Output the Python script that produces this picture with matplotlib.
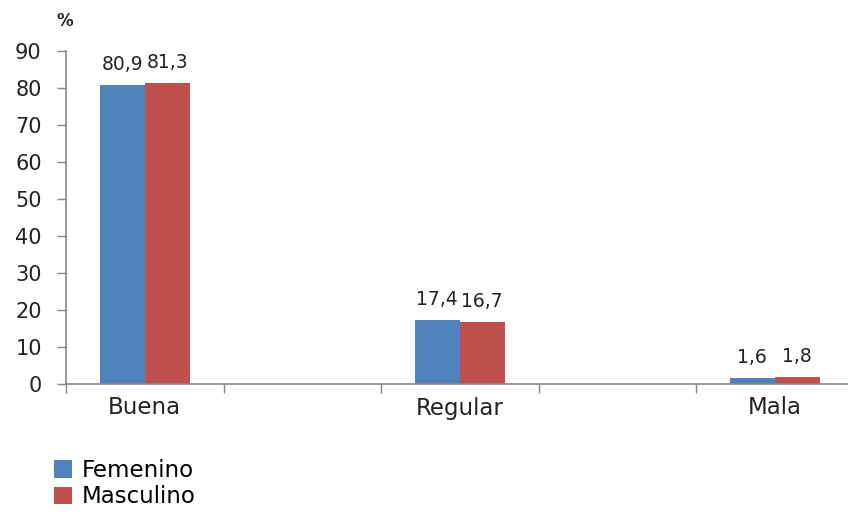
import matplotlib.pyplot as plt
import numpy as np

categories = ["Buena", "Regular", "Mala"]
femenino = [80.9, 17.4, 1.6]
masculino = [81.3, 16.7, 1.8]
series_names = ["Femenino", "Masculino"]
y_ticks = [0, 10, 20, 30, 40, 50, 60, 70, 80, 90]

blue = "#4F81BD"
red = "#C0504D"
axis_grey = "#868686"

W, H = 848, 515
fig = plt.figure(figsize=(W / 100, H / 100), dpi=100)
ax = fig.add_axes([66 / W, 1 - 384 / H, 1 - 66 / W, (384 - 51) / H])

# each category sits in the middle of a two-slot block, as in the original
centers = np.arange(len(categories)) * 2 + 0.5
bw = 0.285

b1 = ax.bar(centers - bw / 2, femenino, bw, color=blue, label=series_names[0])
b2 = ax.bar(centers + bw / 2, masculino, bw, color=red, label=series_names[1])

fmt = lambda v: f"{v:.1f}".replace(".", ",")
for bars, vals in ((b1, femenino), (b2, masculino)):
    ax.bar_label(bars, labels=[fmt(v) for v in vals], padding=8,
                 fontsize=13.5, color="#222222")

ax.set_xlim(0, (W - 66) / 157.5)
ax.set_ylim(0, 90)
ax.set_yticks(y_ticks)
ax.tick_params(axis="y", direction="out", length=6.5, width=1, color=axis_grey,
               pad=11, labelsize=15, labelcolor="#222222")

ax.set_xticks([0, 1, 2, 3, 4])
ax.set_xticklabels([])
ax.set_xticks(centers, minor=True)
ax.set_xticklabels(categories, minor=True)
ax.tick_params(axis="x", which="major", direction="out", length=6.5, width=1,
               color=axis_grey)
ax.tick_params(axis="x", which="minor", length=0, pad=9, labelsize=16.5,
               labelcolor="#222222")

for s in ("top", "right"):
    ax.spines[s].set_visible(False)
for s in ("left", "bottom"):
    ax.spines[s].set_color(axis_grey)
    ax.spines[s].set_linewidth(1.2)

fig.text(65 / W, 1 - 21 / H, "%", ha="center", va="center", fontsize=12,
         fontweight="bold", color="#222222")

fig.legend(loc="upper left", bbox_to_anchor=(54 / W, 1 - 459 / H),
           frameon=False, fontsize=16.5, handlelength=0.8, handleheight=0.8,
           handletextpad=0.4, labelspacing=0.15, borderpad=0, borderaxespad=0)

fig.savefig("out.png", dpi=100)
